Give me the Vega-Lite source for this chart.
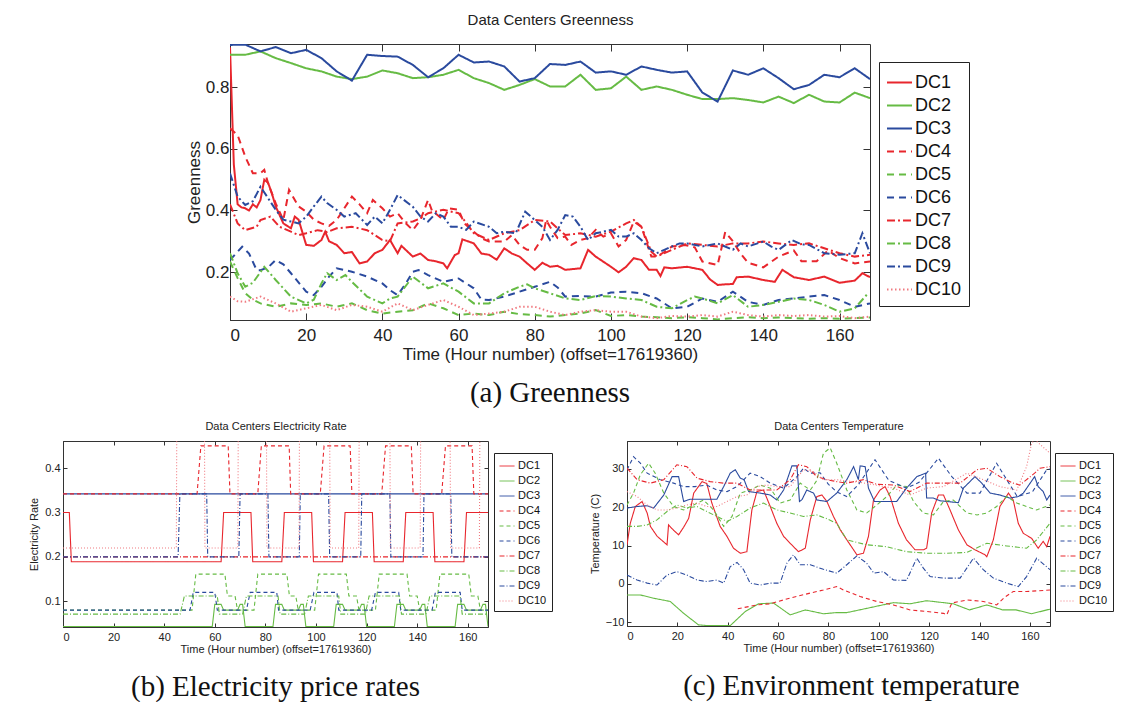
{
"$schema":"https://vega.github.io/schema/vega-lite/v6.json",
"padding":{"left":28,"top":12,"right":5,"bottom":0},
"background":"white",
"spacing":5,
"resolve":{"scale":{"color":"independent","strokeDash":"independent"}},
"config":{"view":{"stroke":"#333","strokeWidth":1},"font":"Liberation Sans","axis":{"grid":false,"domainColor":"#333","tickColor":"#333","labelColor":"#222","titleColor":"#222","titleFontWeight":"normal","labelFont":"Liberation Sans","titleFont":"Liberation Sans"}},
"datasets":{
"a":[
{"s":"DC1","t":0,"v":0.93},{"s":"DC1","t":1,"v":0.55},{"s":"DC1","t":2,"v":0.42},{"s":"DC1","t":3,"v":0.41},{"s":"DC1","t":4,"v":0.407},{"s":"DC1","t":5,"v":0.40},{"s":"DC1","t":6,"v":0.42},{"s":"DC1","t":7,"v":0.41},{"s":"DC1","t":8,"v":0.434},{"s":"DC1","t":9,"v":0.50},{"s":"DC1","t":10,"v":0.49},{"s":"DC1","t":11,"v":0.455},{"s":"DC1","t":12,"v":0.413},{"s":"DC1","t":14,"v":0.358},{"s":"DC1","t":16,"v":0.342},{"s":"DC1","t":17,"v":0.38},{"s":"DC1","t":18,"v":0.37},{"s":"DC1","t":20,"v":0.288},{"s":"DC1","t":22,"v":0.285},{"s":"DC1","t":24,"v":0.304},{"s":"DC1","t":25,"v":0.331},{"s":"DC1","t":26,"v":0.30},{"s":"DC1","t":28,"v":0.288},{"s":"DC1","t":30,"v":0.261},{"s":"DC1","t":32,"v":0.265},{"s":"DC1","t":34,"v":0.228},{"s":"DC1","t":36,"v":0.234},{"s":"DC1","t":38,"v":0.261},{"s":"DC1","t":40,"v":0.272},{"s":"DC1","t":42,"v":0.304},{"s":"DC1","t":44,"v":0.261},{"s":"DC1","t":45,"v":0.285},{"s":"DC1","t":48,"v":0.25},{"s":"DC1","t":50,"v":0.26},{"s":"DC1","t":52,"v":0.239},{"s":"DC1","t":54,"v":0.235},{"s":"DC1","t":56,"v":0.228},{"s":"DC1","t":57,"v":0.212},{"s":"DC1","t":59,"v":0.255},{"s":"DC1","t":60,"v":0.261},{"s":"DC1","t":61,"v":0.306},{"s":"DC1","t":64,"v":0.293},{"s":"DC1","t":66,"v":0.26},{"s":"DC1","t":68,"v":0.256},{"s":"DC1","t":70,"v":0.24},{"s":"DC1","t":72,"v":0.277},{"s":"DC1","t":74,"v":0.26},{"s":"DC1","t":76,"v":0.25},{"s":"DC1","t":78,"v":0.228},{"s":"DC1","t":80,"v":0.207},{"s":"DC1","t":82,"v":0.23},{"s":"DC1","t":84,"v":0.217},{"s":"DC1","t":86,"v":0.22},{"s":"DC1","t":88,"v":0.207},{"s":"DC1","t":92,"v":0.212},{"s":"DC1","t":94,"v":0.272},{"s":"DC1","t":96,"v":0.25},{"s":"DC1","t":100,"v":0.217},{"s":"DC1","t":102,"v":0.199},{"s":"DC1","t":104,"v":0.217},{"s":"DC1","t":106,"v":0.245},{"s":"DC1","t":108,"v":0.239},{"s":"DC1","t":110,"v":0.207},{"s":"DC1","t":112,"v":0.207},{"s":"DC1","t":113,"v":0.187},{"s":"DC1","t":114,"v":0.215},{"s":"DC1","t":116,"v":0.212},{"s":"DC1","t":120,"v":0.217},{"s":"DC1","t":124,"v":0.207},{"s":"DC1","t":126,"v":0.176},{"s":"DC1","t":128,"v":0.158},{"s":"DC1","t":130,"v":0.16},{"s":"DC1","t":132,"v":0.161},{"s":"DC1","t":133,"v":0.183},{"s":"DC1","t":136,"v":0.185},{"s":"DC1","t":140,"v":0.174},{"s":"DC1","t":143,"v":0.168},{"s":"DC1","t":145,"v":0.207},{"s":"DC1","t":148,"v":0.183},{"s":"DC1","t":152,"v":0.174},{"s":"DC1","t":156,"v":0.185},{"s":"DC1","t":160,"v":0.165},{"s":"DC1","t":164,"v":0.172},{"s":"DC1","t":166,"v":0.196},{"s":"DC1","t":168,"v":0.183},
{"s":"DC2","t":0,"v":0.906},{"s":"DC2","t":4,"v":0.906},{"s":"DC2","t":8,"v":0.917},{"s":"DC2","t":12,"v":0.895},{"s":"DC2","t":16,"v":0.879},{"s":"DC2","t":20,"v":0.862},{"s":"DC2","t":24,"v":0.852},{"s":"DC2","t":28,"v":0.835},{"s":"DC2","t":32,"v":0.827},{"s":"DC2","t":36,"v":0.835},{"s":"DC2","t":40,"v":0.855},{"s":"DC2","t":44,"v":0.846},{"s":"DC2","t":48,"v":0.83},{"s":"DC2","t":52,"v":0.833},{"s":"DC2","t":56,"v":0.841},{"s":"DC2","t":60,"v":0.857},{"s":"DC2","t":64,"v":0.83},{"s":"DC2","t":68,"v":0.814},{"s":"DC2","t":72,"v":0.792},{"s":"DC2","t":76,"v":0.808},{"s":"DC2","t":80,"v":0.827},{"s":"DC2","t":84,"v":0.803},{"s":"DC2","t":88,"v":0.803},{"s":"DC2","t":92,"v":0.841},{"s":"DC2","t":96,"v":0.792},{"s":"DC2","t":100,"v":0.797},{"s":"DC2","t":104,"v":0.835},{"s":"DC2","t":108,"v":0.792},{"s":"DC2","t":112,"v":0.803},{"s":"DC2","t":116,"v":0.792},{"s":"DC2","t":120,"v":0.776},{"s":"DC2","t":124,"v":0.762},{"s":"DC2","t":128,"v":0.762},{"s":"DC2","t":132,"v":0.765},{"s":"DC2","t":136,"v":0.759},{"s":"DC2","t":140,"v":0.751},{"s":"DC2","t":144,"v":0.77},{"s":"DC2","t":148,"v":0.749},{"s":"DC2","t":152,"v":0.776},{"s":"DC2","t":156,"v":0.754},{"s":"DC2","t":160,"v":0.751},{"s":"DC2","t":164,"v":0.783},{"s":"DC2","t":168,"v":0.765},
{"s":"DC3","t":0,"v":0.938},{"s":"DC3","t":4,"v":0.939},{"s":"DC3","t":8,"v":0.917},{"s":"DC3","t":12,"v":0.931},{"s":"DC3","t":16,"v":0.911},{"s":"DC3","t":20,"v":0.922},{"s":"DC3","t":24,"v":0.895},{"s":"DC3","t":28,"v":0.852},{"s":"DC3","t":32,"v":0.822},{"s":"DC3","t":36,"v":0.906},{"s":"DC3","t":40,"v":0.902},{"s":"DC3","t":44,"v":0.9},{"s":"DC3","t":48,"v":0.873},{"s":"DC3","t":52,"v":0.833},{"s":"DC3","t":56,"v":0.862},{"s":"DC3","t":60,"v":0.906},{"s":"DC3","t":64,"v":0.881},{"s":"DC3","t":68,"v":0.884},{"s":"DC3","t":72,"v":0.868},{"s":"DC3","t":76,"v":0.819},{"s":"DC3","t":80,"v":0.83},{"s":"DC3","t":84,"v":0.876},{"s":"DC3","t":88,"v":0.873},{"s":"DC3","t":92,"v":0.884},{"s":"DC3","t":96,"v":0.848},{"s":"DC3","t":100,"v":0.852},{"s":"DC3","t":104,"v":0.841},{"s":"DC3","t":108,"v":0.868},{"s":"DC3","t":112,"v":0.857},{"s":"DC3","t":116,"v":0.848},{"s":"DC3","t":120,"v":0.852},{"s":"DC3","t":124,"v":0.783},{"s":"DC3","t":128,"v":0.754},{"s":"DC3","t":132,"v":0.855},{"s":"DC3","t":136,"v":0.841},{"s":"DC3","t":140,"v":0.862},{"s":"DC3","t":144,"v":0.83},{"s":"DC3","t":148,"v":0.794},{"s":"DC3","t":152,"v":0.808},{"s":"DC3","t":156,"v":0.841},{"s":"DC3","t":160,"v":0.833},{"s":"DC3","t":164,"v":0.862},{"s":"DC3","t":168,"v":0.827},
{"s":"DC4","t":0,"v":0.667},{"s":"DC4","t":2,"v":0.645},{"s":"DC4","t":4,"v":0.575},{"s":"DC4","t":6,"v":0.521},{"s":"DC4","t":8,"v":0.521},{"s":"DC4","t":9,"v":0.532},{"s":"DC4","t":10,"v":0.488},{"s":"DC4","t":12,"v":0.423},{"s":"DC4","t":14,"v":0.369},{"s":"DC4","t":15.5,"v":0.467},{"s":"DC4","t":18,"v":0.413},{"s":"DC4","t":20,"v":0.396},{"s":"DC4","t":22,"v":0.37},{"s":"DC4","t":24,"v":0.358},{"s":"DC4","t":26,"v":0.35},{"s":"DC4","t":28,"v":0.369},{"s":"DC4","t":30,"v":0.407},{"s":"DC4","t":32,"v":0.445},{"s":"DC4","t":34,"v":0.42},{"s":"DC4","t":36,"v":0.391},{"s":"DC4","t":37.5,"v":0.434},{"s":"DC4","t":40,"v":0.407},{"s":"DC4","t":42,"v":0.38},{"s":"DC4","t":44,"v":0.391},{"s":"DC4","t":46,"v":0.36},{"s":"DC4","t":48,"v":0.336},{"s":"DC4","t":50,"v":0.37},{"s":"DC4","t":52,"v":0.434},{"s":"DC4","t":53,"v":0.4},{"s":"DC4","t":56,"v":0.369},{"s":"DC4","t":57.5,"v":0.407},{"s":"DC4","t":60,"v":0.402},{"s":"DC4","t":61.5,"v":0.358},{"s":"DC4","t":64,"v":0.331},{"s":"DC4","t":66,"v":0.31},{"s":"DC4","t":68,"v":0.299},{"s":"DC4","t":72,"v":0.299},{"s":"DC4","t":74,"v":0.32},{"s":"DC4","t":76,"v":0.288},{"s":"DC4","t":78,"v":0.272},{"s":"DC4","t":80,"v":0.272},{"s":"DC4","t":82,"v":0.31},{"s":"DC4","t":83,"v":0.369},{"s":"DC4","t":84,"v":0.347},{"s":"DC4","t":86,"v":0.31},{"s":"DC4","t":88,"v":0.315},{"s":"DC4","t":89.6,"v":0.288},{"s":"DC4","t":92,"v":0.304},{"s":"DC4","t":94,"v":0.31},{"s":"DC4","t":96,"v":0.337},{"s":"DC4","t":98,"v":0.315},{"s":"DC4","t":100,"v":0.326},{"s":"DC4","t":102,"v":0.283},{"s":"DC4","t":104,"v":0.304},{"s":"DC4","t":106,"v":0.364},{"s":"DC4","t":108,"v":0.347},{"s":"DC4","t":110.6,"v":0.25},{"s":"DC4","t":112,"v":0.25},{"s":"DC4","t":114,"v":0.265},{"s":"DC4","t":116,"v":0.283},{"s":"DC4","t":119.4,"v":0.288},{"s":"DC4","t":122,"v":0.28},{"s":"DC4","t":124,"v":0.234},{"s":"DC4","t":128,"v":0.223},{"s":"DC4","t":130,"v":0.33},{"s":"DC4","t":132,"v":0.3},{"s":"DC4","t":134,"v":0.26},{"s":"DC4","t":136,"v":0.23},{"s":"DC4","t":140,"v":0.215},{"s":"DC4","t":144,"v":0.25},{"s":"DC4","t":148,"v":0.27},{"s":"DC4","t":150,"v":0.235},{"s":"DC4","t":154,"v":0.235},{"s":"DC4","t":157,"v":0.27},{"s":"DC4","t":160,"v":0.245},{"s":"DC4","t":164,"v":0.228},{"s":"DC4","t":168,"v":0.234},
{"s":"DC5","t":0,"v":0.234},{"s":"DC5","t":2,"v":0.18},{"s":"DC5","t":4,"v":0.131},{"s":"DC5","t":6,"v":0.11},{"s":"DC5","t":8,"v":0.098},{"s":"DC5","t":12,"v":0.087},{"s":"DC5","t":16,"v":0.098},{"s":"DC5","t":20,"v":0.093},{"s":"DC5","t":24,"v":0.098},{"s":"DC5","t":28,"v":0.087},{"s":"DC5","t":32,"v":0.098},{"s":"DC5","t":36,"v":0.076},{"s":"DC5","t":40,"v":0.065},{"s":"DC5","t":44,"v":0.071},{"s":"DC5","t":48,"v":0.076},{"s":"DC5","t":52,"v":0.098},{"s":"DC5","t":56,"v":0.082},{"s":"DC5","t":60,"v":0.06},{"s":"DC5","t":64,"v":0.065},{"s":"DC5","t":68,"v":0.06},{"s":"DC5","t":72,"v":0.071},{"s":"DC5","t":76,"v":0.063},{"s":"DC5","t":80,"v":0.06},{"s":"DC5","t":84,"v":0.055},{"s":"DC5","t":88,"v":0.06},{"s":"DC5","t":92,"v":0.065},{"s":"DC5","t":96,"v":0.076},{"s":"DC5","t":100,"v":0.057},{"s":"DC5","t":104,"v":0.06},{"s":"DC5","t":108,"v":0.055},{"s":"DC5","t":112,"v":0.053},{"s":"DC5","t":116,"v":0.05},{"s":"DC5","t":120,"v":0.053},{"s":"DC5","t":124,"v":0.05},{"s":"DC5","t":128,"v":0.046},{"s":"DC5","t":132,"v":0.05},{"s":"DC5","t":136,"v":0.053},{"s":"DC5","t":140,"v":0.05},{"s":"DC5","t":144,"v":0.052},{"s":"DC5","t":148,"v":0.05},{"s":"DC5","t":152,"v":0.048},{"s":"DC5","t":156,"v":0.05},{"s":"DC5","t":160,"v":0.048},{"s":"DC5","t":164,"v":0.05},{"s":"DC5","t":168,"v":0.052},
{"s":"DC6","t":0,"v":0.239},{"s":"DC6","t":3.2,"v":0.282},{"s":"DC6","t":5,"v":0.26},{"s":"DC6","t":7,"v":0.206},{"s":"DC6","t":8,"v":0.206},{"s":"DC6","t":10,"v":0.215},{"s":"DC6","t":12,"v":0.239},{"s":"DC6","t":14,"v":0.225},{"s":"DC6","t":16,"v":0.196},{"s":"DC6","t":20,"v":0.136},{"s":"DC6","t":22,"v":0.125},{"s":"DC6","t":24,"v":0.152},{"s":"DC6","t":26,"v":0.185},{"s":"DC6","t":28,"v":0.212},{"s":"DC6","t":32,"v":0.201},{"s":"DC6","t":36,"v":0.185},{"s":"DC6","t":40,"v":0.163},{"s":"DC6","t":42,"v":0.141},{"s":"DC6","t":44,"v":0.125},{"s":"DC6","t":46,"v":0.16},{"s":"DC6","t":48,"v":0.201},{"s":"DC6","t":49.5,"v":0.206},{"s":"DC6","t":52,"v":0.19},{"s":"DC6","t":56,"v":0.168},{"s":"DC6","t":60,"v":0.179},{"s":"DC6","t":64,"v":0.147},{"s":"DC6","t":66,"v":0.11},{"s":"DC6","t":68,"v":0.109},{"s":"DC6","t":72,"v":0.12},{"s":"DC6","t":76,"v":0.136},{"s":"DC6","t":80,"v":0.152},{"s":"DC6","t":84,"v":0.168},{"s":"DC6","t":86,"v":0.15},{"s":"DC6","t":88,"v":0.12},{"s":"DC6","t":92,"v":0.122},{"s":"DC6","t":96,"v":0.12},{"s":"DC6","t":100,"v":0.133},{"s":"DC6","t":104,"v":0.136},{"s":"DC6","t":108,"v":0.131},{"s":"DC6","t":112,"v":0.114},{"s":"DC6","t":116,"v":0.082},{"s":"DC6","t":120,"v":0.087},{"s":"DC6","t":124,"v":0.114},{"s":"DC6","t":128,"v":0.103},{"s":"DC6","t":132,"v":0.136},{"s":"DC6","t":136,"v":0.103},{"s":"DC6","t":140,"v":0.093},{"s":"DC6","t":144,"v":0.109},{"s":"DC6","t":148,"v":0.114},{"s":"DC6","t":152,"v":0.12},{"s":"DC6","t":156,"v":0.125},{"s":"DC6","t":160,"v":0.109},{"s":"DC6","t":164,"v":0.087},{"s":"DC6","t":168,"v":0.098},
{"s":"DC7","t":0,"v":0.42},{"s":"DC7","t":2,"v":0.358},{"s":"DC7","t":4,"v":0.336},{"s":"DC7","t":7,"v":0.347},{"s":"DC7","t":8,"v":0.369},{"s":"DC7","t":10.6,"v":0.38},{"s":"DC7","t":13,"v":0.347},{"s":"DC7","t":16,"v":0.331},{"s":"DC7","t":18,"v":0.32},{"s":"DC7","t":20,"v":0.326},{"s":"DC7","t":23,"v":0.336},{"s":"DC7","t":25.5,"v":0.33},{"s":"DC7","t":28,"v":0.342},{"s":"DC7","t":32,"v":0.347},{"s":"DC7","t":36,"v":0.336},{"s":"DC7","t":40,"v":0.304},{"s":"DC7","t":42,"v":0.3},{"s":"DC7","t":44,"v":0.358},{"s":"DC7","t":48,"v":0.364},{"s":"DC7","t":50,"v":0.375},{"s":"DC7","t":52,"v":0.391},{"s":"DC7","t":56,"v":0.402},{"s":"DC7","t":60,"v":0.391},{"s":"DC7","t":62,"v":0.36},{"s":"DC7","t":64,"v":0.326},{"s":"DC7","t":68,"v":0.304},{"s":"DC7","t":72,"v":0.326},{"s":"DC7","t":76,"v":0.336},{"s":"DC7","t":80,"v":0.369},{"s":"DC7","t":84,"v":0.364},{"s":"DC7","t":88,"v":0.32},{"s":"DC7","t":92,"v":0.326},{"s":"DC7","t":96,"v":0.315},{"s":"DC7","t":100,"v":0.331},{"s":"DC7","t":104,"v":0.358},{"s":"DC7","t":106,"v":0.369},{"s":"DC7","t":108,"v":0.347},{"s":"DC7","t":110.6,"v":0.266},{"s":"DC7","t":112,"v":0.25},{"s":"DC7","t":116,"v":0.272},{"s":"DC7","t":120,"v":0.293},{"s":"DC7","t":124,"v":0.288},{"s":"DC7","t":128,"v":0.283},{"s":"DC7","t":132,"v":0.293},{"s":"DC7","t":136,"v":0.293},{"s":"DC7","t":140,"v":0.299},{"s":"DC7","t":144,"v":0.293},{"s":"DC7","t":148,"v":0.288},{"s":"DC7","t":152,"v":0.293},{"s":"DC7","t":156,"v":0.277},{"s":"DC7","t":160,"v":0.261},{"s":"DC7","t":164,"v":0.25},{"s":"DC7","t":168,"v":0.256},
{"s":"DC8","t":0,"v":0.261},{"s":"DC8","t":2,"v":0.196},{"s":"DC8","t":4,"v":0.152},{"s":"DC8","t":6,"v":0.165},{"s":"DC8","t":9,"v":0.217},{"s":"DC8","t":12,"v":0.174},{"s":"DC8","t":16,"v":0.12},{"s":"DC8","t":20,"v":0.098},{"s":"DC8","t":22,"v":0.11},{"s":"DC8","t":24,"v":0.163},{"s":"DC8","t":25.5,"v":0.196},{"s":"DC8","t":28,"v":0.174},{"s":"DC8","t":30.3,"v":0.19},{"s":"DC8","t":32,"v":0.168},{"s":"DC8","t":36,"v":0.12},{"s":"DC8","t":40,"v":0.098},{"s":"DC8","t":42,"v":0.114},{"s":"DC8","t":44,"v":0.12},{"s":"DC8","t":48,"v":0.185},{"s":"DC8","t":52,"v":0.147},{"s":"DC8","t":56,"v":0.163},{"s":"DC8","t":60,"v":0.136},{"s":"DC8","t":64,"v":0.098},{"s":"DC8","t":68,"v":0.098},{"s":"DC8","t":72,"v":0.131},{"s":"DC8","t":76,"v":0.152},{"s":"DC8","t":78,"v":0.16},{"s":"DC8","t":80,"v":0.147},{"s":"DC8","t":84,"v":0.131},{"s":"DC8","t":88,"v":0.114},{"s":"DC8","t":92,"v":0.109},{"s":"DC8","t":96,"v":0.122},{"s":"DC8","t":100,"v":0.12},{"s":"DC8","t":104,"v":0.114},{"s":"DC8","t":108,"v":0.109},{"s":"DC8","t":112,"v":0.087},{"s":"DC8","t":116,"v":0.082},{"s":"DC8","t":120,"v":0.109},{"s":"DC8","t":122,"v":0.12},{"s":"DC8","t":124,"v":0.114},{"s":"DC8","t":128,"v":0.098},{"s":"DC8","t":132,"v":0.125},{"s":"DC8","t":136,"v":0.087},{"s":"DC8","t":140,"v":0.093},{"s":"DC8","t":144,"v":0.103},{"s":"DC8","t":148,"v":0.114},{"s":"DC8","t":152,"v":0.109},{"s":"DC8","t":156,"v":0.093},{"s":"DC8","t":160,"v":0.071},{"s":"DC8","t":164,"v":0.082},{"s":"DC8","t":167.5,"v":0.131},
{"s":"DC9","t":0,"v":0.521},{"s":"DC9","t":2,"v":0.445},{"s":"DC9","t":4,"v":0.418},{"s":"DC9","t":6,"v":0.43},{"s":"DC9","t":8,"v":0.477},{"s":"DC9","t":10,"v":0.44},{"s":"DC9","t":12,"v":0.402},{"s":"DC9","t":14,"v":0.37},{"s":"DC9","t":16,"v":0.364},{"s":"DC9","t":18,"v":0.358},{"s":"DC9","t":20,"v":0.38},{"s":"DC9","t":22,"v":0.413},{"s":"DC9","t":24,"v":0.445},{"s":"DC9","t":25.5,"v":0.424},{"s":"DC9","t":28,"v":0.402},{"s":"DC9","t":30,"v":0.38},{"s":"DC9","t":33,"v":0.391},{"s":"DC9","t":36,"v":0.353},{"s":"DC9","t":38,"v":0.38},{"s":"DC9","t":40,"v":0.358},{"s":"DC9","t":42,"v":0.402},{"s":"DC9","t":44,"v":0.45},{"s":"DC9","t":48,"v":0.412},{"s":"DC9","t":50,"v":0.38},{"s":"DC9","t":52,"v":0.364},{"s":"DC9","t":54,"v":0.391},{"s":"DC9","t":56,"v":0.38},{"s":"DC9","t":58,"v":0.347},{"s":"DC9","t":60,"v":0.347},{"s":"DC9","t":62,"v":0.337},{"s":"DC9","t":64,"v":0.364},{"s":"DC9","t":68,"v":0.347},{"s":"DC9","t":70,"v":0.326},{"s":"DC9","t":72,"v":0.331},{"s":"DC9","t":75,"v":0.326},{"s":"DC9","t":77.5,"v":0.396},{"s":"DC9","t":80,"v":0.369},{"s":"DC9","t":82,"v":0.347},{"s":"DC9","t":84,"v":0.304},{"s":"DC9","t":86,"v":0.337},{"s":"DC9","t":88,"v":0.385},{"s":"DC9","t":90,"v":0.38},{"s":"DC9","t":92,"v":0.347},{"s":"DC9","t":94,"v":0.304},{"s":"DC9","t":96,"v":0.326},{"s":"DC9","t":98,"v":0.331},{"s":"DC9","t":100,"v":0.337},{"s":"DC9","t":102,"v":0.315},{"s":"DC9","t":104,"v":0.315},{"s":"DC9","t":106,"v":0.326},{"s":"DC9","t":108,"v":0.304},{"s":"DC9","t":110,"v":0.277},{"s":"DC9","t":112,"v":0.261},{"s":"DC9","t":114,"v":0.272},{"s":"DC9","t":116,"v":0.283},{"s":"DC9","t":118,"v":0.293},{"s":"DC9","t":120,"v":0.293},{"s":"DC9","t":124,"v":0.283},{"s":"DC9","t":128,"v":0.293},{"s":"DC9","t":132,"v":0.272},{"s":"DC9","t":134,"v":0.293},{"s":"DC9","t":136,"v":0.283},{"s":"DC9","t":140,"v":0.299},{"s":"DC9","t":142,"v":0.283},{"s":"DC9","t":144,"v":0.272},{"s":"DC9","t":146,"v":0.29},{"s":"DC9","t":147.5,"v":0.304},{"s":"DC9","t":150,"v":0.29},{"s":"DC9","t":152,"v":0.288},{"s":"DC9","t":156,"v":0.261},{"s":"DC9","t":160,"v":0.256},{"s":"DC9","t":164,"v":0.261},{"s":"DC9","t":166,"v":0.326},{"s":"DC9","t":168,"v":0.261},
{"s":"DC10","t":0,"v":0.12},{"s":"DC10","t":2,"v":0.105},{"s":"DC10","t":4,"v":0.103},{"s":"DC10","t":8,"v":0.12},{"s":"DC10","t":12,"v":0.098},{"s":"DC10","t":16,"v":0.071},{"s":"DC10","t":20,"v":0.082},{"s":"DC10","t":24,"v":0.093},{"s":"DC10","t":28,"v":0.076},{"s":"DC10","t":32,"v":0.093},{"s":"DC10","t":36,"v":0.087},{"s":"DC10","t":40,"v":0.071},{"s":"DC10","t":44,"v":0.098},{"s":"DC10","t":48,"v":0.076},{"s":"DC10","t":52,"v":0.093},{"s":"DC10","t":56,"v":0.109},{"s":"DC10","t":60,"v":0.087},{"s":"DC10","t":64,"v":0.06},{"s":"DC10","t":68,"v":0.065},{"s":"DC10","t":72,"v":0.071},{"s":"DC10","t":76,"v":0.087},{"s":"DC10","t":80,"v":0.087},{"s":"DC10","t":84,"v":0.071},{"s":"DC10","t":88,"v":0.06},{"s":"DC10","t":92,"v":0.071},{"s":"DC10","t":96,"v":0.076},{"s":"DC10","t":100,"v":0.071},{"s":"DC10","t":104,"v":0.071},{"s":"DC10","t":108,"v":0.055},{"s":"DC10","t":112,"v":0.05},{"s":"DC10","t":116,"v":0.057},{"s":"DC10","t":120,"v":0.055},{"s":"DC10","t":124,"v":0.06},{"s":"DC10","t":128,"v":0.055},{"s":"DC10","t":132,"v":0.071},{"s":"DC10","t":136,"v":0.06},{"s":"DC10","t":140,"v":0.055},{"s":"DC10","t":144,"v":0.06},{"s":"DC10","t":148,"v":0.057},{"s":"DC10","t":152,"v":0.06},{"s":"DC10","t":156,"v":0.055},{"s":"DC10","t":160,"v":0.057},{"s":"DC10","t":164,"v":0.05},{"s":"DC10","t":168,"v":0.055}
],
"b":[
{"s":"DC1","t":0,"v":0.3},{"s":"DC1","t":2.5,"v":0.3},{"s":"DC1","t":3.3,"v":0.189},{"s":"DC1","t":62.5,"v":0.189},{"s":"DC1","t":63.5,"v":0.3},{"s":"DC1","t":74.3,"v":0.3},{"s":"DC1","t":75,"v":0.189},{"s":"DC1","t":86.5,"v":0.189},{"s":"DC1","t":87.5,"v":0.3},{"s":"DC1","t":98.3,"v":0.3},{"s":"DC1","t":99,"v":0.189},{"s":"DC1","t":110.5,"v":0.189},{"s":"DC1","t":111.5,"v":0.3},{"s":"DC1","t":122.3,"v":0.3},{"s":"DC1","t":123,"v":0.189},{"s":"DC1","t":134.5,"v":0.189},{"s":"DC1","t":135.5,"v":0.3},{"s":"DC1","t":146.3,"v":0.3},{"s":"DC1","t":147,"v":0.189},{"s":"DC1","t":158.5,"v":0.189},{"s":"DC1","t":159.5,"v":0.3},{"s":"DC1","t":168,"v":0.3},
{"s":"DC2","t":0,"v":0.043},{"s":"DC2","t":59,"v":0.043},{"s":"DC2","t":60,"v":0.093},{"s":"DC2","t":62.5,"v":0.093},{"s":"DC2","t":63.5,"v":0.08},{"s":"DC2","t":69,"v":0.08},{"s":"DC2","t":70,"v":0.093},{"s":"DC2","t":71,"v":0.093},{"s":"DC2","t":72,"v":0.043},{"s":"DC2","t":83,"v":0.043},{"s":"DC2","t":84,"v":0.093},{"s":"DC2","t":86.5,"v":0.093},{"s":"DC2","t":87.5,"v":0.08},{"s":"DC2","t":93,"v":0.08},{"s":"DC2","t":94,"v":0.093},{"s":"DC2","t":95,"v":0.093},{"s":"DC2","t":96,"v":0.043},{"s":"DC2","t":107,"v":0.043},{"s":"DC2","t":108,"v":0.093},{"s":"DC2","t":110.5,"v":0.093},{"s":"DC2","t":111.5,"v":0.08},{"s":"DC2","t":117,"v":0.08},{"s":"DC2","t":118,"v":0.093},{"s":"DC2","t":119,"v":0.093},{"s":"DC2","t":120,"v":0.043},{"s":"DC2","t":131,"v":0.043},{"s":"DC2","t":132,"v":0.093},{"s":"DC2","t":134.5,"v":0.093},{"s":"DC2","t":135.5,"v":0.08},{"s":"DC2","t":141,"v":0.08},{"s":"DC2","t":142,"v":0.093},{"s":"DC2","t":143,"v":0.093},{"s":"DC2","t":144,"v":0.043},{"s":"DC2","t":155,"v":0.043},{"s":"DC2","t":156,"v":0.093},{"s":"DC2","t":158.5,"v":0.093},{"s":"DC2","t":159.5,"v":0.08},{"s":"DC2","t":165,"v":0.08},{"s":"DC2","t":166,"v":0.093},{"s":"DC2","t":167,"v":0.093},{"s":"DC2","t":168,"v":0.043},
{"s":"DC3","t":0,"v":0.342},{"s":"DC3","t":168,"v":0.342},
{"s":"DC4","t":0,"v":0.342},{"s":"DC4","t":53,"v":0.342},{"s":"DC4","t":54.5,"v":0.45},{"s":"DC4","t":65.3,"v":0.45},{"s":"DC4","t":66,"v":0.342},{"s":"DC4","t":77,"v":0.342},{"s":"DC4","t":78.4,"v":0.45},{"s":"DC4","t":89.4,"v":0.45},{"s":"DC4","t":90,"v":0.342},{"s":"DC4","t":101.7,"v":0.342},{"s":"DC4","t":103.2,"v":0.45},{"s":"DC4","t":113.5,"v":0.45},{"s":"DC4","t":114.2,"v":0.342},{"s":"DC4","t":126,"v":0.342},{"s":"DC4","t":127.5,"v":0.45},{"s":"DC4","t":137.7,"v":0.45},{"s":"DC4","t":138.4,"v":0.342},{"s":"DC4","t":149.7,"v":0.342},{"s":"DC4","t":151.2,"v":0.45},{"s":"DC4","t":161.7,"v":0.45},{"s":"DC4","t":162.4,"v":0.342},{"s":"DC4","t":168,"v":0.342},
{"s":"DC5","t":0,"v":0.08},{"s":"DC5","t":51,"v":0.08},{"s":"DC5","t":52.5,"v":0.161},{"s":"DC5","t":64,"v":0.161},{"s":"DC5","t":65,"v":0.112},{"s":"DC5","t":68,"v":0.112},{"s":"DC5","t":69,"v":0.08},{"s":"DC5","t":75.5,"v":0.08},{"s":"DC5","t":77,"v":0.161},{"s":"DC5","t":88.5,"v":0.161},{"s":"DC5","t":89.5,"v":0.112},{"s":"DC5","t":92,"v":0.112},{"s":"DC5","t":93,"v":0.08},{"s":"DC5","t":99.5,"v":0.08},{"s":"DC5","t":101,"v":0.161},{"s":"DC5","t":112,"v":0.161},{"s":"DC5","t":113,"v":0.112},{"s":"DC5","t":116,"v":0.112},{"s":"DC5","t":117,"v":0.08},{"s":"DC5","t":123.5,"v":0.08},{"s":"DC5","t":125,"v":0.161},{"s":"DC5","t":136,"v":0.161},{"s":"DC5","t":137,"v":0.112},{"s":"DC5","t":140,"v":0.112},{"s":"DC5","t":141,"v":0.08},{"s":"DC5","t":147.5,"v":0.08},{"s":"DC5","t":149,"v":0.161},{"s":"DC5","t":160.4,"v":0.161},{"s":"DC5","t":161.4,"v":0.112},{"s":"DC5","t":164,"v":0.112},{"s":"DC5","t":165,"v":0.08},{"s":"DC5","t":168,"v":0.08},
{"s":"DC6","t":0,"v":0.08},{"s":"DC6","t":50.2,"v":0.08},{"s":"DC6","t":51.5,"v":0.12},{"s":"DC6","t":60,"v":0.12},{"s":"DC6","t":61,"v":0.08},{"s":"DC6","t":72.5,"v":0.08},{"s":"DC6","t":74,"v":0.12},{"s":"DC6","t":84.5,"v":0.12},{"s":"DC6","t":85.2,"v":0.08},{"s":"DC6","t":97.7,"v":0.08},{"s":"DC6","t":99.2,"v":0.12},{"s":"DC6","t":108.3,"v":0.12},{"s":"DC6","t":109,"v":0.08},{"s":"DC6","t":122,"v":0.08},{"s":"DC6","t":123.5,"v":0.12},{"s":"DC6","t":132.7,"v":0.12},{"s":"DC6","t":133.5,"v":0.08},{"s":"DC6","t":145.9,"v":0.08},{"s":"DC6","t":147.2,"v":0.12},{"s":"DC6","t":157,"v":0.12},{"s":"DC6","t":157.8,"v":0.08},{"s":"DC6","t":168,"v":0.08},
{"s":"DC7","t":0,"v":0.2},{"s":"DC7","t":168,"v":0.2},
{"s":"DC8","t":0,"v":0.071},{"s":"DC8","t":46.3,"v":0.071},{"s":"DC8","t":48,"v":0.112},{"s":"DC8","t":61,"v":0.112},{"s":"DC8","t":61.8,"v":0.071},{"s":"DC8","t":71,"v":0.071},{"s":"DC8","t":72.5,"v":0.112},{"s":"DC8","t":85,"v":0.112},{"s":"DC8","t":85.8,"v":0.071},{"s":"DC8","t":95.5,"v":0.071},{"s":"DC8","t":97,"v":0.112},{"s":"DC8","t":109,"v":0.112},{"s":"DC8","t":109.8,"v":0.071},{"s":"DC8","t":119.5,"v":0.071},{"s":"DC8","t":121,"v":0.112},{"s":"DC8","t":133,"v":0.112},{"s":"DC8","t":133.8,"v":0.071},{"s":"DC8","t":143.5,"v":0.071},{"s":"DC8","t":145,"v":0.112},{"s":"DC8","t":157,"v":0.112},{"s":"DC8","t":157.8,"v":0.071},{"s":"DC8","t":168,"v":0.071},
{"s":"DC9","t":0,"v":0.2},{"s":"DC9","t":45.5,"v":0.2},{"s":"DC9","t":46.2,"v":0.342},{"s":"DC9","t":56.8,"v":0.342},{"s":"DC9","t":57.2,"v":0.2},{"s":"DC9","t":69.5,"v":0.2},{"s":"DC9","t":70,"v":0.342},{"s":"DC9","t":81,"v":0.342},{"s":"DC9","t":81.4,"v":0.2},{"s":"DC9","t":93.4,"v":0.2},{"s":"DC9","t":93.8,"v":0.342},{"s":"DC9","t":105,"v":0.342},{"s":"DC9","t":105.4,"v":0.2},{"s":"DC9","t":117.7,"v":0.2},{"s":"DC9","t":118.1,"v":0.342},{"s":"DC9","t":129.2,"v":0.342},{"s":"DC9","t":129.6,"v":0.2},{"s":"DC9","t":142.3,"v":0.2},{"s":"DC9","t":142.7,"v":0.342},{"s":"DC9","t":153.3,"v":0.342},{"s":"DC9","t":153.7,"v":0.2},{"s":"DC9","t":168,"v":0.2},
{"s":"DC10","t":0,"v":0.22},{"s":"DC10","t":44.8,"v":0.22},{"s":"DC10","t":45,"v":0.52},{"s":"DC10","t":55.9,"v":0.52},{"s":"DC10","t":56.1,"v":0.22},{"s":"DC10","t":69.1,"v":0.22},{"s":"DC10","t":69.3,"v":0.52},{"s":"DC10","t":80.4,"v":0.52},{"s":"DC10","t":80.6,"v":0.22},{"s":"DC10","t":93.3,"v":0.22},{"s":"DC10","t":93.5,"v":0.52},{"s":"DC10","t":105.4,"v":0.52},{"s":"DC10","t":105.6,"v":0.22},{"s":"DC10","t":116.9,"v":0.22},{"s":"DC10","t":117.1,"v":0.52},{"s":"DC10","t":129.2,"v":0.52},{"s":"DC10","t":129.4,"v":0.22},{"s":"DC10","t":141.2,"v":0.22},{"s":"DC10","t":141.4,"v":0.52},{"s":"DC10","t":153,"v":0.52},{"s":"DC10","t":153.2,"v":0.22},{"s":"DC10","t":164.6,"v":0.22},{"s":"DC10","t":164.8,"v":0.52},{"s":"DC10","t":168,"v":0.52}
],
"c":[
{"s":"DC1","t":0,"v":10.2},{"s":"DC1","t":1.3,"v":15.8},{"s":"DC1","t":3.3,"v":20.2},{"s":"DC1","t":6,"v":21.5},{"s":"DC1","t":8,"v":18.5},{"s":"DC1","t":9.3,"v":15},{"s":"DC1","t":12,"v":12.4},{"s":"DC1","t":15.9,"v":10.2},{"s":"DC1","t":16.5,"v":15.4},{"s":"DC1","t":18.5,"v":14},{"s":"DC1","t":20.5,"v":12.8},{"s":"DC1","t":22.5,"v":14.8},{"s":"DC1","t":24.5,"v":17.1},{"s":"DC1","t":26.5,"v":23.7},{"s":"DC1","t":29.8,"v":26.7},{"s":"DC1","t":31.7,"v":26.2},{"s":"DC1","t":33.7,"v":21.1},{"s":"DC1","t":37,"v":15},{"s":"DC1","t":39.7,"v":12.4},{"s":"DC1","t":42.3,"v":9.3},{"s":"DC1","t":45,"v":8},{"s":"DC1","t":47.6,"v":8.4},{"s":"DC1","t":49.6,"v":19.3},{"s":"DC1","t":51.6,"v":24.1},{"s":"DC1","t":54.2,"v":24.5},{"s":"DC1","t":56.9,"v":20.2},{"s":"DC1","t":59.5,"v":15.8},{"s":"DC1","t":62.2,"v":12.4},{"s":"DC1","t":64.8,"v":10.6},{"s":"DC1","t":68.1,"v":8.4},{"s":"DC1","t":70.8,"v":9.3},{"s":"DC1","t":72.8,"v":16.7},{"s":"DC1","t":75.4,"v":22.8},{"s":"DC1","t":77.4,"v":23.2},{"s":"DC1","t":79.4,"v":21.5},{"s":"DC1","t":82,"v":17.6},{"s":"DC1","t":84.7,"v":14.1},{"s":"DC1","t":87.3,"v":11.5},{"s":"DC1","t":91.3,"v":7.6},{"s":"DC1","t":93.9,"v":8},{"s":"DC1","t":95.9,"v":12.4},{"s":"DC1","t":97.9,"v":21.9},{"s":"DC1","t":100.5,"v":24.5},{"s":"DC1","t":102.5,"v":25.4},{"s":"DC1","t":104.5,"v":22.8},{"s":"DC1","t":107.8,"v":15.8},{"s":"DC1","t":111,"v":11.5},{"s":"DC1","t":114.4,"v":8.9},{"s":"DC1","t":117.7,"v":8.9},{"s":"DC1","t":119,"v":9.3},{"s":"DC1","t":121,"v":18.5},{"s":"DC1","t":123.7,"v":23.2},{"s":"DC1","t":125.7,"v":23.2},{"s":"DC1","t":128.3,"v":19.3},{"s":"DC1","t":131.6,"v":14.1},{"s":"DC1","t":135,"v":10.2},{"s":"DC1","t":138.2,"v":8.9},{"s":"DC1","t":142.2,"v":7.6},{"s":"DC1","t":142.9,"v":7.1},{"s":"DC1","t":145.5,"v":11.5},{"s":"DC1","t":148.1,"v":20.2},{"s":"DC1","t":151.5,"v":23.7},{"s":"DC1","t":153.4,"v":21.9},{"s":"DC1","t":155.4,"v":15.8},{"s":"DC1","t":157.4,"v":13.2},{"s":"DC1","t":160.7,"v":11.9},{"s":"DC1","t":163.3,"v":9.3},{"s":"DC1","t":165.3,"v":11.1},{"s":"DC1","t":166.7,"v":9.7},{"s":"DC1","t":168,"v":12.4},
{"s":"DC2","t":0,"v":-2.9},{"s":"DC2","t":5.3,"v":-2.9},{"s":"DC2","t":11,"v":-3.8},{"s":"DC2","t":17.2,"v":-4.6},{"s":"DC2","t":22.5,"v":-7.7},{"s":"DC2","t":28.4,"v":-10.7},{"s":"DC2","t":32,"v":-10.9},{"s":"DC2","t":41,"v":-10.9},{"s":"DC2","t":47,"v":-7.2},{"s":"DC2","t":52.2,"v":-5.2},{"s":"DC2","t":58.2,"v":-5},{"s":"DC2","t":64.8,"v":-8.1},{"s":"DC2","t":70.8,"v":-6.8},{"s":"DC2","t":78,"v":-7.8},{"s":"DC2","t":83.3,"v":-7.5},{"s":"DC2","t":87.3,"v":-7.5},{"s":"DC2","t":95.2,"v":-6.4},{"s":"DC2","t":105.8,"v":-4.9},{"s":"DC2","t":112.4,"v":-5.2},{"s":"DC2","t":119,"v":-4.4},{"s":"DC2","t":129.6,"v":-5.2},{"s":"DC2","t":136,"v":-6.8},{"s":"DC2","t":142.9,"v":-5.5},{"s":"DC2","t":149.2,"v":-6.8},{"s":"DC2","t":154.5,"v":-6.8},{"s":"DC2","t":160.7,"v":-7.8},{"s":"DC2","t":168,"v":-6.6},
{"s":"DC3","t":0,"v":19.8},{"s":"DC3","t":4,"v":20.2},{"s":"DC3","t":8,"v":20.4},{"s":"DC3","t":10.6,"v":19.8},{"s":"DC3","t":14.6,"v":23.2},{"s":"DC3","t":17.9,"v":28},{"s":"DC3","t":20.5,"v":28},{"s":"DC3","t":22.5,"v":21.5},{"s":"DC3","t":25,"v":22.1},{"s":"DC3","t":30.4,"v":22.1},{"s":"DC3","t":35.7,"v":22.1},{"s":"DC3","t":38.4,"v":25.4},{"s":"DC3","t":41,"v":28.9},{"s":"DC3","t":43,"v":29.8},{"s":"DC3","t":45,"v":27.6},{"s":"DC3","t":46.5,"v":27.2},{"s":"DC3","t":48.3,"v":24.1},{"s":"DC3","t":52.9,"v":23.7},{"s":"DC3","t":56.9,"v":23.2},{"s":"DC3","t":59.5,"v":21.9},{"s":"DC3","t":62.2,"v":24.5},{"s":"DC3","t":65.5,"v":30.8},{"s":"DC3","t":67.5,"v":30.8},{"s":"DC3","t":68.5,"v":21.5},{"s":"DC3","t":69.5,"v":22},{"s":"DC3","t":71.4,"v":24.5},{"s":"DC3","t":74.1,"v":23.7},{"s":"DC3","t":75.4,"v":21.9},{"s":"DC3","t":79.4,"v":21.5},{"s":"DC3","t":83.3,"v":23.7},{"s":"DC3","t":87.3,"v":27.2},{"s":"DC3","t":90,"v":30.6},{"s":"DC3","t":91.9,"v":27.2},{"s":"DC3","t":92.6,"v":30.8},{"s":"DC3","t":94.6,"v":30.6},{"s":"DC3","t":95.9,"v":25},{"s":"DC3","t":98.3,"v":21.5},{"s":"DC3","t":102.5,"v":21.5},{"s":"DC3","t":107.1,"v":21.5},{"s":"DC3","t":111,"v":25},{"s":"DC3","t":115.1,"v":28},{"s":"DC3","t":118.6,"v":28.9},{"s":"DC3","t":119,"v":22.4},{"s":"DC3","t":121.7,"v":22.4},{"s":"DC3","t":124.3,"v":21.7},{"s":"DC3","t":131.6,"v":21.2},{"s":"DC3","t":133.6,"v":25},{"s":"DC3","t":138.2,"v":28},{"s":"DC3","t":140.9,"v":26.3},{"s":"DC3","t":144.2,"v":23.7},{"s":"DC3","t":148.1,"v":23.2},{"s":"DC3","t":152.1,"v":22.4},{"s":"DC3","t":155.4,"v":22.8},{"s":"DC3","t":157.4,"v":23.7},{"s":"DC3","t":161.9,"v":28},{"s":"DC3","t":163.3,"v":25.4},{"s":"DC3","t":165.3,"v":24.1},{"s":"DC3","t":166.7,"v":21.9},{"s":"DC3","t":168,"v":23.2},
{"s":"DC4","t":44,"v":-6.5},{"s":"DC4","t":51.6,"v":-5.5},{"s":"DC4","t":56.9,"v":-5.2},{"s":"DC4","t":60,"v":-4.6},{"s":"DC4","t":64.8,"v":-3.7},{"s":"DC4","t":72.8,"v":-2.4},{"s":"DC4","t":78,"v":-1.6},{"s":"DC4","t":83.3,"v":-0.7},{"s":"DC4","t":86,"v":-1.6},{"s":"DC4","t":92.6,"v":-3.3},{"s":"DC4","t":99.2,"v":-4.6},{"s":"DC4","t":105.8,"v":-5.5},{"s":"DC4","t":112.4,"v":-6.8},{"s":"DC4","t":119,"v":-7.2},{"s":"DC4","t":125.7,"v":-7.7},{"s":"DC4","t":127,"v":-8.1},{"s":"DC4","t":129,"v":-5},{"s":"DC4","t":135,"v":-4.2},{"s":"DC4","t":141.5,"v":-4.6},{"s":"DC4","t":146.8,"v":-5.5},{"s":"DC4","t":150,"v":-3.5},{"s":"DC4","t":153.4,"v":-2},{"s":"DC4","t":158.7,"v":-2},{"s":"DC4","t":168,"v":-1.6},
{"s":"DC5","t":0,"v":20.6},{"s":"DC5","t":2.6,"v":23.7},{"s":"DC5","t":5.3,"v":28.5},{"s":"DC5","t":8.6,"v":31.5},{"s":"DC5","t":11.2,"v":28.9},{"s":"DC5","t":14.6,"v":23.7},{"s":"DC5","t":18.5,"v":20.2},{"s":"DC5","t":22.5,"v":19.3},{"s":"DC5","t":26.5,"v":20.6},{"s":"DC5","t":30.4,"v":21.9},{"s":"DC5","t":34.4,"v":19.3},{"s":"DC5","t":38.4,"v":15},{"s":"DC5","t":41.7,"v":17.6},{"s":"DC5","t":45,"v":23.7},{"s":"DC5","t":48.9,"v":24.5},{"s":"DC5","t":52.9,"v":25.8},{"s":"DC5","t":56.9,"v":25},{"s":"DC5","t":60.8,"v":21.1},{"s":"DC5","t":64.8,"v":21.9},{"s":"DC5","t":68.8,"v":26.3},{"s":"DC5","t":72.8,"v":24.5},{"s":"DC5","t":75.4,"v":27},{"s":"DC5","t":78,"v":34.1},{"s":"DC5","t":80.7,"v":35.5},{"s":"DC5","t":83.3,"v":31.5},{"s":"DC5","t":87.3,"v":24.5},{"s":"DC5","t":91.3,"v":19.3},{"s":"DC5","t":95.2,"v":18.5},{"s":"DC5","t":99.2,"v":20.6},{"s":"DC5","t":103.2,"v":22.8},{"s":"DC5","t":107.1,"v":25.8},{"s":"DC5","t":111,"v":25.4},{"s":"DC5","t":113.8,"v":21.5},{"s":"DC5","t":117.7,"v":18.5},{"s":"DC5","t":121.7,"v":18},{"s":"DC5","t":125.7,"v":21.5},{"s":"DC5","t":129.6,"v":21.9},{"s":"DC5","t":135,"v":18.5},{"s":"DC5","t":139,"v":18},{"s":"DC5","t":142.9,"v":18.5},{"s":"DC5","t":146.8,"v":20.2},{"s":"DC5","t":150.8,"v":22.8},{"s":"DC5","t":154.8,"v":21.1},{"s":"DC5","t":158.7,"v":20.2},{"s":"DC5","t":162.7,"v":19.3},{"s":"DC5","t":168,"v":20.6},
{"s":"DC6","t":0,"v":29.8},{"s":"DC6","t":2.6,"v":33.2},{"s":"DC6","t":5.3,"v":31.5},{"s":"DC6","t":8,"v":28.9},{"s":"DC6","t":13.2,"v":27.2},{"s":"DC6","t":18.5,"v":26.3},{"s":"DC6","t":22.5,"v":25.4},{"s":"DC6","t":27,"v":25.4},{"s":"DC6","t":31.7,"v":25.8},{"s":"DC6","t":35.7,"v":24.5},{"s":"DC6","t":39.7,"v":24.1},{"s":"DC6","t":43.7,"v":25.4},{"s":"DC6","t":48.9,"v":28.9},{"s":"DC6","t":52.9,"v":28},{"s":"DC6","t":56.9,"v":26.3},{"s":"DC6","t":62.2,"v":25},{"s":"DC6","t":67.5,"v":28},{"s":"DC6","t":70.1,"v":30.2},{"s":"DC6","t":72.8,"v":28.9},{"s":"DC6","t":76.7,"v":29},{"s":"DC6","t":80,"v":26},{"s":"DC6","t":83.3,"v":24},{"s":"DC6","t":87.3,"v":22.8},{"s":"DC6","t":92,"v":26},{"s":"DC6","t":98.5,"v":32.4},{"s":"DC6","t":104,"v":27},{"s":"DC6","t":111,"v":25},{"s":"DC6","t":116,"v":26.5},{"s":"DC6","t":123.7,"v":32.8},{"s":"DC6","t":129,"v":28},{"s":"DC6","t":135,"v":23.7},{"s":"DC6","t":140.2,"v":23.7},{"s":"DC6","t":146.8,"v":31.5},{"s":"DC6","t":151,"v":27},{"s":"DC6","t":155,"v":22.8},{"s":"DC6","t":161,"v":24},{"s":"DC6","t":166.7,"v":29.8},{"s":"DC6","t":168,"v":30},
{"s":"DC7","t":0,"v":30.2},{"s":"DC7","t":4,"v":27.2},{"s":"DC7","t":9.3,"v":26.3},{"s":"DC7","t":14.6,"v":27.2},{"s":"DC7","t":19.8,"v":31.1},{"s":"DC7","t":23.8,"v":30.6},{"s":"DC7","t":27.8,"v":27.6},{"s":"DC7","t":33,"v":26.7},{"s":"DC7","t":38.4,"v":26.3},{"s":"DC7","t":43.7,"v":26.3},{"s":"DC7","t":48.9,"v":24.5},{"s":"DC7","t":54.2,"v":24.5},{"s":"DC7","t":59.5,"v":24.5},{"s":"DC7","t":64.8,"v":27.2},{"s":"DC7","t":68.1,"v":31.1},{"s":"DC7","t":71.4,"v":30.6},{"s":"DC7","t":75.4,"v":28},{"s":"DC7","t":79.4,"v":27.2},{"s":"DC7","t":83.3,"v":26.7},{"s":"DC7","t":87.3,"v":26.3},{"s":"DC7","t":93.9,"v":27.2},{"s":"DC7","t":99.2,"v":26},{"s":"DC7","t":105.8,"v":25.8},{"s":"DC7","t":112.4,"v":24.1},{"s":"DC7","t":119,"v":26.3},{"s":"DC7","t":125.7,"v":26.3},{"s":"DC7","t":132.3,"v":26.3},{"s":"DC7","t":139,"v":29.8},{"s":"DC7","t":142.9,"v":30.2},{"s":"DC7","t":148.1,"v":28},{"s":"DC7","t":153.4,"v":26.3},{"s":"DC7","t":156,"v":25.8},{"s":"DC7","t":161.9,"v":28.9},{"s":"DC7","t":164,"v":30.2},{"s":"DC7","t":168,"v":30.6},
{"s":"DC8","t":0,"v":15},{"s":"DC8","t":4,"v":15},{"s":"DC8","t":8,"v":15.4},{"s":"DC8","t":11.9,"v":16.7},{"s":"DC8","t":15.9,"v":18.9},{"s":"DC8","t":19.8,"v":20.6},{"s":"DC8","t":23.8,"v":19.8},{"s":"DC8","t":27.8,"v":20.2},{"s":"DC8","t":31.7,"v":18.9},{"s":"DC8","t":35.7,"v":17.6},{"s":"DC8","t":39.7,"v":16.3},{"s":"DC8","t":43.7,"v":17.6},{"s":"DC8","t":48.9,"v":19.8},{"s":"DC8","t":54.2,"v":21.1},{"s":"DC8","t":59.5,"v":19.3},{"s":"DC8","t":64.8,"v":18.5},{"s":"DC8","t":70.1,"v":17.6},{"s":"DC8","t":75.4,"v":18},{"s":"DC8","t":79.4,"v":17},{"s":"DC8","t":83.3,"v":15.8},{"s":"DC8","t":87.3,"v":11.5},{"s":"DC8","t":95.2,"v":10.2},{"s":"DC8","t":103.2,"v":9.7},{"s":"DC8","t":111,"v":8.4},{"s":"DC8","t":119,"v":8},{"s":"DC8","t":127,"v":8},{"s":"DC8","t":135,"v":8.2},{"s":"DC8","t":142.9,"v":10.6},{"s":"DC8","t":150.8,"v":9.9},{"s":"DC8","t":158.7,"v":9.3},{"s":"DC8","t":162.7,"v":11.5},{"s":"DC8","t":168,"v":15.8},
{"s":"DC9","t":0,"v":2.3},{"s":"DC9","t":4,"v":1},{"s":"DC9","t":8,"v":0.2},{"s":"DC9","t":11.9,"v":-0.3},{"s":"DC9","t":15.9,"v":2.3},{"s":"DC9","t":19.8,"v":3.2},{"s":"DC9","t":23.8,"v":2.3},{"s":"DC9","t":27.8,"v":1},{"s":"DC9","t":31.7,"v":0.6},{"s":"DC9","t":35.7,"v":1},{"s":"DC9","t":38.4,"v":0.2},{"s":"DC9","t":41,"v":4.5},{"s":"DC9","t":43.7,"v":5.6},{"s":"DC9","t":46.3,"v":3.7},{"s":"DC9","t":48.9,"v":0.2},{"s":"DC9","t":52.9,"v":-0.3},{"s":"DC9","t":56.9,"v":0.2},{"s":"DC9","t":60.8,"v":0.2},{"s":"DC9","t":63.5,"v":5.4},{"s":"DC9","t":66.1,"v":7.6},{"s":"DC9","t":68.8,"v":5},{"s":"DC9","t":72.8,"v":5},{"s":"DC9","t":78,"v":3.8},{"s":"DC9","t":83.3,"v":2.8},{"s":"DC9","t":87.3,"v":5},{"s":"DC9","t":91.3,"v":7.3},{"s":"DC9","t":95.2,"v":5.4},{"s":"DC9","t":98,"v":2.8},{"s":"DC9","t":101.9,"v":3.2},{"s":"DC9","t":105.8,"v":1},{"s":"DC9","t":111,"v":0.9},{"s":"DC9","t":115.1,"v":6.7},{"s":"DC9","t":117.7,"v":4.1},{"s":"DC9","t":120.4,"v":1.9},{"s":"DC9","t":125.7,"v":1.5},{"s":"DC9","t":132.3,"v":1.5},{"s":"DC9","t":137.6,"v":6.7},{"s":"DC9","t":141.5,"v":3.7},{"s":"DC9","t":145.5,"v":1.5},{"s":"DC9","t":150.8,"v":0.2},{"s":"DC9","t":155.4,"v":-0.7},{"s":"DC9","t":158.7,"v":1.9},{"s":"DC9","t":162.7,"v":6.7},{"s":"DC9","t":168,"v":3.7},
{"s":"DC10","t":0,"v":24.1},{"s":"DC10","t":4,"v":22.8},{"s":"DC10","t":8,"v":20.6},{"s":"DC10","t":11.9,"v":19.3},{"s":"DC10","t":15.9,"v":19.3},{"s":"DC10","t":19.8,"v":19.8},{"s":"DC10","t":23.8,"v":20.6},{"s":"DC10","t":27.8,"v":21.1},{"s":"DC10","t":31.7,"v":20.2},{"s":"DC10","t":35.7,"v":20.2},{"s":"DC10","t":39.7,"v":21.5},{"s":"DC10","t":43.7,"v":22.8},{"s":"DC10","t":47.6,"v":23.2},{"s":"DC10","t":51.6,"v":25.4},{"s":"DC10","t":55.6,"v":25.8},{"s":"DC10","t":59.5,"v":25.4},{"s":"DC10","t":64.8,"v":25.4},{"s":"DC10","t":70.1,"v":29.8},{"s":"DC10","t":74.1,"v":29.3},{"s":"DC10","t":78,"v":27.2},{"s":"DC10","t":83.3,"v":27.2},{"s":"DC10","t":92.6,"v":26.5},{"s":"DC10","t":105.8,"v":25},{"s":"DC10","t":112.4,"v":23.2},{"s":"DC10","t":119,"v":25},{"s":"DC10","t":125.7,"v":25.4},{"s":"DC10","t":135,"v":28.9},{"s":"DC10","t":141.5,"v":27.2},{"s":"DC10","t":148.1,"v":25.4},{"s":"DC10","t":154.8,"v":24.5},{"s":"DC10","t":158.7,"v":30.6},{"s":"DC10","t":160.7,"v":36.7},{"s":"DC10","t":162,"v":37.6},{"s":"DC10","t":168,"v":34.1}
]
},
"vconcat":[
{
"spacing":10,
"resolve":{"scale":{"color":"independent","strokeDash":"independent"}},
"hconcat":[
{"width":111,"height":1,"view":{"stroke":null},"data":{"values":[]},"mark":{"type":"point","opacity":0}},
{
"width":640,"height":276,
"data":{"name":"a"},
"title":{"text":"(a) Greenness","orient":"bottom","font":"Liberation Serif","fontSize":29,"fontWeight":"normal","color":"#111","frame":"group","anchor":"middle","offset":17},
"encoding":{
"color":{"field":"s","type":"nominal","sort":["DC1","DC2","DC3","DC4","DC5","DC6","DC7","DC8","DC9","DC10"],"scale":{"domain":["DC1","DC2","DC3","DC4","DC5","DC6","DC7","DC8","DC9","DC10"],"range":["#e8262d","#66bb44","#2a4a9e","#e8262d","#66bb44","#2a4a9e","#e8262d","#66bb44","#2a4a9e","#f07a80"]},"legend":{"orient":"none","legendX":649,"legendY":18,"title":null,"strokeColor":"#222","fillColor":"white","padding":7,"labelFontSize":18,"labelFont":"Liberation Sans","labelColor":"#111","symbolSize":625,"symbolStrokeWidth":2,"rowPadding":0,"labelOffset":2}},
"strokeDash":{"field":"s","type":"nominal","sort":["DC1","DC2","DC3","DC4","DC5","DC6","DC7","DC8","DC9","DC10"],"scale":{"domain":["DC1","DC2","DC3","DC4","DC5","DC6","DC7","DC8","DC9","DC10"],"range":[[1,0],[1,0],[1,0],[7,5],[7,5],[7,5],[8,3,2,3],[8,3,2,3],[8,3,2,3],[1.5,2.5]]},"legend":{"orient":"none","legendX":649,"legendY":18,"title":null,"strokeColor":"#222","fillColor":"white","padding":7,"labelFontSize":18,"labelFont":"Liberation Sans","labelColor":"#111","symbolSize":625,"symbolStrokeWidth":2,"rowPadding":0,"labelOffset":2}}
},
"layer":[
{"mark":{"type":"line","clip":true,"strokeWidth":2},
"encoding":{
"x":{"field":"t","type":"quantitative","scale":{"domain":[0,168],"nice":false,"zero":false},"axis":{"orient":"bottom","values":[0,20,40,60,80,100,120,140,160],"tickSize":-7,"labelPadding":14,"labelFontSize":17,"title":"Time (Hour number) (offset=17619360)","titleFontSize":17,"titlePadding":3}},
"y":{"field":"v","type":"quantitative","scale":{"domain":[0.044,0.941],"nice":false,"zero":false},"axis":{"orient":"left","values":[0.2,0.4,0.6,0.8],"tickSize":-7,"labelPadding":8,"labelFontSize":17,"title":"Greenness","titleFontSize":17,"titlePadding":2}}}},
{"mark":{"type":"line","opacity":0},
"encoding":{
"x":{"field":"t","type":"quantitative","scale":{"domain":[0,168],"nice":false,"zero":false},"axis":{"orient":"top","values":[0,20,40,60,80,100,120,140,160],"tickSize":-7,"labels":false,"domain":false,"title":"Data Centers Greenness","titleFontSize":15,"titlePadding":16}},
"y":{"field":"v","type":"quantitative","scale":{"domain":[0.044,0.941],"nice":false,"zero":false},"axis":{"orient":"right","values":[0.2,0.4,0.6,0.8],"tickSize":-7,"labels":false,"domain":false,"title":null}}}}
],
"resolve":{"axis":{"x":"independent","y":"independent"}}
}
]
},
{
"spacing":35,
"resolve":{"scale":{"color":"independent","strokeDash":"independent"}},
"hconcat":[
{
"width":425,"height":186,
"data":{"name":"b"},
"title":{"text":"(b) Electricity price rates","orient":"bottom","font":"Liberation Serif","fontSize":29,"fontWeight":"normal","color":"#111","frame":"group","anchor":"middle","offset":19},
"encoding":{
"color":{"field":"s","type":"nominal","sort":["DC1","DC2","DC3","DC4","DC5","DC6","DC7","DC8","DC9","DC10"],"scale":{"domain":["DC1","DC2","DC3","DC4","DC5","DC6","DC7","DC8","DC9","DC10"],"range":["#e8262d","#66bb44","#2a4a9e","#e8262d","#66bb44","#2a4a9e","#e8262d","#66bb44","#2a4a9e","#f07a80"]},"legend":{"orient":"none","legendX":431,"legendY":12,"title":null,"strokeColor":"#222","fillColor":"white","padding":5,"labelFontSize":11,"labelFont":"Liberation Sans","labelColor":"#111","symbolSize":225,"symbolStrokeWidth":1,"rowPadding":2,"labelOffset":3}},
"strokeDash":{"field":"s","type":"nominal","sort":["DC1","DC2","DC3","DC4","DC5","DC6","DC7","DC8","DC9","DC10"],"scale":{"domain":["DC1","DC2","DC3","DC4","DC5","DC6","DC7","DC8","DC9","DC10"],"range":[[1,0],[1,0],[1,0],[4,3],[4,3],[4,3],[5,2,1,2],[5,2,1,2],[5,2,1,2],[1,2]]},"legend":{"orient":"none","legendX":431,"legendY":12,"title":null,"strokeColor":"#222","fillColor":"white","padding":5,"labelFontSize":11,"labelFont":"Liberation Sans","labelColor":"#111","symbolSize":225,"symbolStrokeWidth":1,"rowPadding":2,"labelOffset":3}}
},
"layer":[
{"mark":{"type":"line","clip":true,"strokeWidth":1.1},
"encoding":{
"x":{"field":"t","type":"quantitative","scale":{"domain":[0,168],"nice":false,"zero":false},"axis":{"orient":"bottom","values":[0,20,40,60,80,100,120,140,160],"tickSize":-4,"labelPadding":8,"labelFontSize":11,"title":"Time (Hour number) (offset=17619360)","titleFontSize":11,"titlePadding":1}},
"y":{"field":"v","type":"quantitative","scale":{"domain":[0.042,0.461],"nice":false,"zero":false},"axis":{"orient":"left","values":[0.1,0.2,0.3,0.4],"format":".1f","tickSize":-4,"labelPadding":7,"labelFontSize":11,"title":"Electricity Rate","titleFontSize":11,"titlePadding":5}}}},
{"mark":{"type":"line","opacity":0},
"encoding":{
"x":{"field":"t","type":"quantitative","scale":{"domain":[0,168],"nice":false,"zero":false},"axis":{"orient":"top","values":[0,20,40,60,80,100,120,140,160],"tickSize":-4,"labels":false,"domain":false,"title":"Data Centers Electricity Rate","titleFontSize":11,"titlePadding":9}},
"y":{"field":"v","type":"quantitative","scale":{"domain":[0.042,0.461],"nice":false,"zero":false},"axis":{"orient":"right","values":[0.1,0.2,0.3,0.4],"tickSize":-4,"labels":false,"domain":false,"title":null}}}}
],
"resolve":{"axis":{"x":"independent","y":"independent"}}
},
{
"width":423,"height":185,
"data":{"name":"c"},
"title":{"text":"(c) Environment temperature","orient":"bottom","font":"Liberation Serif","fontSize":29,"fontWeight":"normal","color":"#111","frame":"bounds","anchor":"middle","offset":19},
"encoding":{
"color":{"field":"s","type":"nominal","sort":["DC1","DC2","DC3","DC4","DC5","DC6","DC7","DC8","DC9","DC10"],"scale":{"domain":["DC1","DC2","DC3","DC4","DC5","DC6","DC7","DC8","DC9","DC10"],"range":["#e8262d","#66bb44","#2a4a9e","#e8262d","#66bb44","#2a4a9e","#e8262d","#66bb44","#2a4a9e","#f07a80"]},"legend":{"orient":"none","legendX":428,"legendY":12,"title":null,"strokeColor":"#222","fillColor":"white","padding":5,"labelFontSize":11,"labelFont":"Liberation Sans","labelColor":"#111","symbolSize":225,"symbolStrokeWidth":1,"rowPadding":2,"labelOffset":3}},
"strokeDash":{"field":"s","type":"nominal","sort":["DC1","DC2","DC3","DC4","DC5","DC6","DC7","DC8","DC9","DC10"],"scale":{"domain":["DC1","DC2","DC3","DC4","DC5","DC6","DC7","DC8","DC9","DC10"],"range":[[1,0],[1,0],[1,0],[4,3],[4,3],[4,3],[5,2,1,2],[5,2,1,2],[5,2,1,2],[1,2]]},"legend":{"orient":"none","legendX":428,"legendY":12,"title":null,"strokeColor":"#222","fillColor":"white","padding":5,"labelFontSize":11,"labelFont":"Liberation Sans","labelColor":"#111","symbolSize":225,"symbolStrokeWidth":1,"rowPadding":2,"labelOffset":3}}
},
"layer":[
{"mark":{"type":"line","clip":true,"strokeWidth":1.1},
"encoding":{
"x":{"field":"t","type":"quantitative","scale":{"domain":[0,168],"nice":false,"zero":false},"axis":{"orient":"bottom","values":[0,20,40,60,80,100,120,140,160],"tickSize":-4,"labelPadding":8,"labelFontSize":11,"title":"Time (Hour number) (offset=17619360)","titleFontSize":11,"titlePadding":1}},
"y":{"field":"v","type":"quantitative","scale":{"domain":[-11,37.3],"nice":false,"zero":false},"axis":{"orient":"left","values":[-10,0,10,20,30],"tickSize":-4,"labelPadding":7,"labelFontSize":11,"title":"Temperature (C)","titleFontSize":11,"titlePadding":5}}}},
{"mark":{"type":"line","opacity":0},
"encoding":{
"x":{"field":"t","type":"quantitative","scale":{"domain":[0,168],"nice":false,"zero":false},"axis":{"orient":"top","values":[0,20,40,60,80,100,120,140,160],"tickSize":-4,"labels":false,"domain":false,"title":"Data Centers Temperature","titleFontSize":11,"titlePadding":9}},
"y":{"field":"v","type":"quantitative","scale":{"domain":[-11,37.3],"nice":false,"zero":false},"axis":{"orient":"right","values":[-10,0,10,20,30],"tickSize":-4,"labels":false,"domain":false,"title":null}}}}
],
"resolve":{"axis":{"x":"independent","y":"independent"}}
}
]
}
]
}
